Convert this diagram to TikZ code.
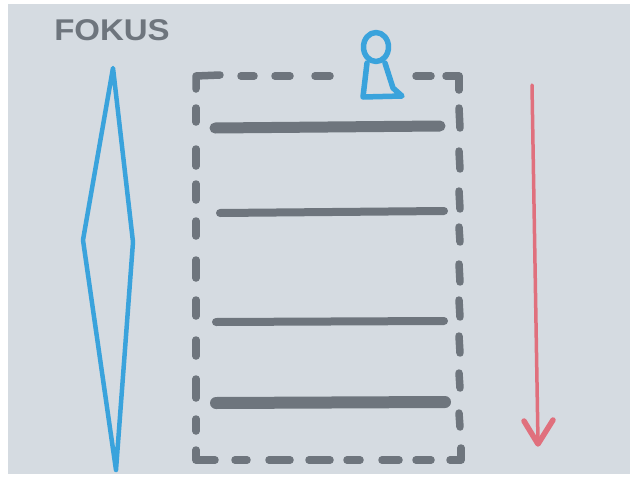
\documentclass[tikz,border=0pt]{standalone}
\usepackage{fontspec}
\setmainfont{Liberation Sans}
\definecolor{board}{HTML}{D5DBE1}
\definecolor{markgray}{HTML}{6E757D}
\definecolor{markblue}{HTML}{3AA3DC}
\definecolor{markred}{HTML}{E0707D}
\tikzset{
  dashseg/.style={draw=markgray, line width=7.5pt, line cap=round, line join=round},
  barline/.style={draw=markgray, line cap=round},
  bluepen/.style={draw=markblue, line width=4.5pt, line cap=round, line join=round},
  redpen/.style={draw=markred, line cap=round, line join=round}
}
\begin{document}
\begin{tikzpicture}[x=1pt,y=-1pt]
\useasboundingbox (0,0) rectangle (630,477);
\fill[white] (0,0) rectangle (630,477);
\fill[board] (8,4) rectangle (630,474);

% title
\node[text=markgray, font=\bfseries\fontsize{30}{30}\selectfont, xscale=1.1] (fokus) at (112,30) {FOKUS};

% blue lens
\draw[bluepen] (113,68) -- (133,242) -- (116,470) -- (83,240) -- cycle;

% dashed frame: top edge
\draw[dashseg] (196,89) -- (196,76) -- (220,75);
\foreach \a/\b in {241/254, 275/290, 315/330, 416/431}
  \draw[dashseg] (\a,76) -- (\b,76);
\draw[dashseg] (446,76) -- (459,76) -- (459,90);
% left edge
\foreach \a/\b in {108/122, 149/166, 184/200, 221/236, 260/278, 300/316, 340/356, 379/398, 419/431}
  \draw[dashseg] (196,\a) -- (196,\b);
\draw[dashseg] (196,450) -- (196,460) -- (215,460);
% bottom edge
\foreach \a/\b in {235/247, 269/290, 309/330, 347/360, 382/399, 416/431}
  \draw[dashseg] (\a,460) -- (\b,460);
\draw[dashseg] (450,460) -- (461,460) -- (461,448);
% right edge
\foreach \a/\b in {108/128, 151/169, 191/209, 227/242, 264/282, 300/317, 336/353, 373/388, 413/427}
  \draw[dashseg] (459,\a) -- (460,\b);

% bars
\draw[barline, line width=11pt] (215,128) -- (440,126);
\draw[barline, line width=8pt] (220,213) -- (444,211);
\draw[barline, line width=8pt] (216,322) -- (444,321);
\draw[barline, line width=12pt] (216,403) -- (445,402);

% person icon
\draw[bluepen, line width=5.5pt] (376,47) ellipse [x radius=12.5, y radius=14.5];
\draw[bluepen, line width=5.5pt] (367,63) -- (363,97) -- (402,96) -- (393,88) -- (385,63);

% red arrow
\draw[redpen, line width=3.5pt] (532,85) -- (538,442);
\draw[redpen, line width=5.5pt] (524,421) -- (538,444) -- (553,420);
\end{tikzpicture}
\end{document}
